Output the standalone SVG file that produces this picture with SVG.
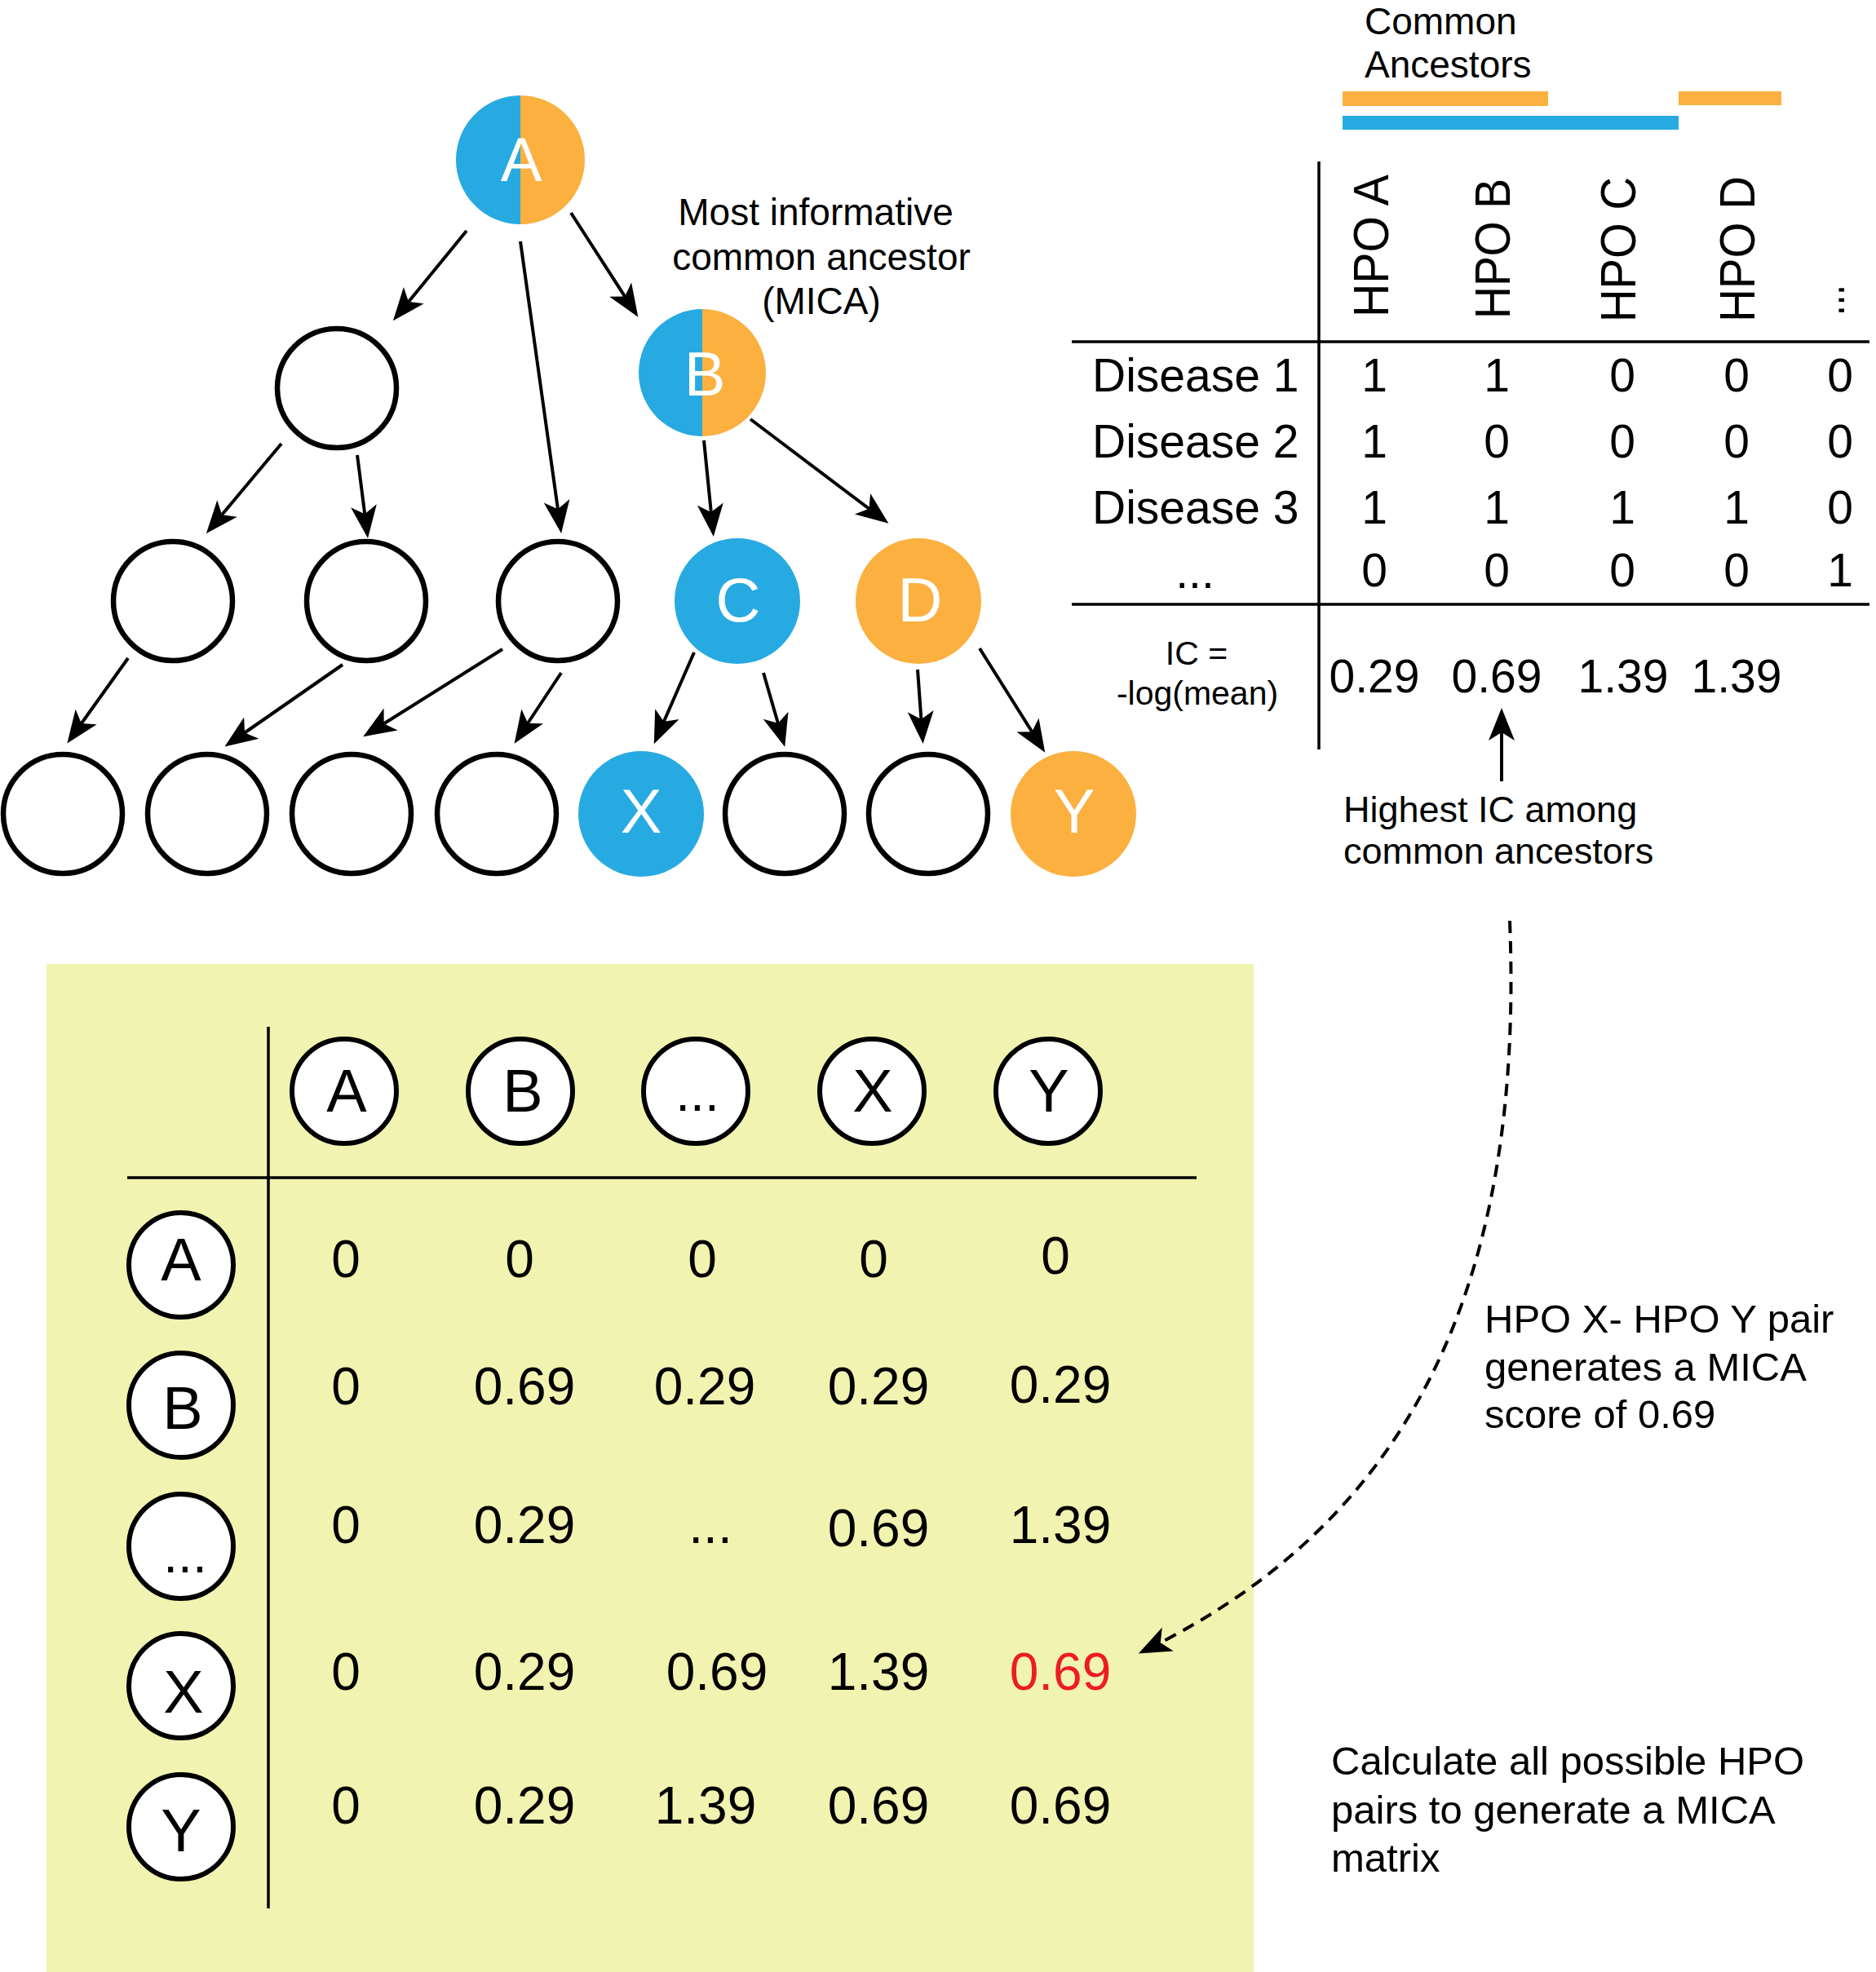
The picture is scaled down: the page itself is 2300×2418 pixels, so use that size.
<svg xmlns="http://www.w3.org/2000/svg" width="2300" height="2418" viewBox="0 0 2300 2418">
<style>
.t{font-family:"Liberation Sans",Arial,Helvetica,sans-serif;fill:#000}
.w{font-family:"Liberation Sans",Arial,Helvetica,sans-serif;fill:#fff;font-size:76px;text-anchor:middle}
.c{text-anchor:middle}
.ec{fill:#fff;stroke:#000;stroke-width:6.5}
.mc{fill:#fff;stroke:#000;stroke-width:6}
.ml{font-family:"Liberation Sans",Arial,Helvetica,sans-serif;font-size:74px;text-anchor:middle}
.mv{font-family:"Liberation Sans",Arial,Helvetica,sans-serif;font-size:64px;text-anchor:middle}
.tv{font-family:"Liberation Sans",Arial,Helvetica,sans-serif;font-size:57px;text-anchor:middle}
.hd{font-family:"Liberation Sans",Arial,Helvetica,sans-serif;font-size:62px}
.ar{fill:none;stroke:#000;stroke-width:4;marker-end:url(#ah)}
.ln{stroke:#000;stroke-width:3.5;fill:none}
.blue{fill:#27AAE1}
.orange{fill:#FBB040}
</style>
<defs>
<marker id="ah" markerUnits="userSpaceOnUse" viewBox="-40 -20 55 40" refX="0" refY="0" markerWidth="55" markerHeight="40" orient="auto">
<path d="M8,0 L-32,-16 L-22,0 L-32,16 Z" fill="#000"/>
</marker>
</defs>
<rect width="2300" height="2418" fill="#fff"/>

<!-- Tree nodes -->
<g id="node-A">
<path class="blue" d="M638,117 A79,79 0 0 0 638,275 Z"/>
<path class="orange" d="M638,117 A79,79 0 0 1 638,275 Z"/>
<text class="w" x="639" y="222">A</text>
</g>
<g id="node-r2a"><circle class="ec" cx="413" cy="476" r="73"/></g>
<g id="node-B">
<path class="blue" d="M861,379 A78,78 0 0 0 861,535 Z"/>
<path class="orange" d="M861,379 A78,78 0 0 1 861,535 Z"/>
<text class="w" x="864" y="485">B</text>
</g>
<g id="node-r3a"><circle class="ec" cx="212" cy="737" r="73"/></g>
<g id="node-r3b"><circle class="ec" cx="449" cy="737" r="73"/></g>
<g id="node-r3c"><circle class="ec" cx="684" cy="737" r="73"/></g>
<g id="node-C"><circle class="blue" cx="904" cy="737" r="77"/><text class="w" x="905" y="762">C</text></g>
<g id="node-D"><circle class="orange" cx="1126" cy="737" r="77"/><text class="w" x="1128" y="762">D</text></g>
<g id="node-r4a"><circle class="ec" cx="77" cy="998" r="73"/></g>
<g id="node-r4b"><circle class="ec" cx="254" cy="998" r="73"/></g>
<g id="node-r4c"><circle class="ec" cx="431" cy="998" r="73"/></g>
<g id="node-r4d"><circle class="ec" cx="609" cy="998" r="73"/></g>
<g id="node-X"><circle class="blue" cx="786" cy="998" r="77"/><text class="w" x="786" y="1021">X</text></g>
<g id="node-r4f"><circle class="ec" cx="962" cy="998" r="73"/></g>
<g id="node-r4g"><circle class="ec" cx="1138" cy="998" r="73"/></g>
<g id="node-Y"><circle class="orange" cx="1316" cy="998" r="77"/><text class="w" x="1317" y="1021">Y</text></g>

<g id="label-mica" class="t" font-size="46">
<text class="c" x="1000" y="276">Most informative</text>
<text class="c" x="1007" y="331">common ancestor</text>
<text class="c" x="1007" y="385">(MICA)</text>
</g>

<!-- Common ancestors bars -->
<g id="common-ancestors">
<text class="t" font-size="46" x="1673" y="42">Common</text>
<text class="t" font-size="46" x="1673" y="95">Ancestors</text>
<rect class="orange" x="1646" y="112" width="252" height="18"/>
<rect class="orange" x="2058" y="112" width="126" height="17"/>
<rect class="blue" x="1646" y="142" width="412" height="17"/>
</g>

<!-- Disease table -->
<g id="disease-table">
<line class="ln" x1="1617" y1="198" x2="1617" y2="919"/>
<line class="ln" x1="1314" y1="419" x2="2292" y2="419"/>
<line class="ln" x1="1314" y1="741" x2="2292" y2="741"/>
<text class="hd" transform="translate(1702,389) rotate(-90)" textLength="175" lengthAdjust="spacingAndGlyphs">HPO A</text>
<text class="hd" transform="translate(1851,391) rotate(-90)" textLength="172" lengthAdjust="spacingAndGlyphs">HPO B</text>
<text class="hd" transform="translate(2005,395) rotate(-90)" textLength="178" lengthAdjust="spacingAndGlyphs">HPO C</text>
<text class="hd" transform="translate(2151,395) rotate(-90)" textLength="179" lengthAdjust="spacingAndGlyphs">HPO D</text>
<text class="hd" transform="translate(2261,387) rotate(-90)" textLength="38" lengthAdjust="spacingAndGlyphs">...</text>
<g class="t" font-size="57">
<text x="1339" y="480">Disease 1</text>
<text x="1339" y="561">Disease 2</text>
<text x="1339" y="642">Disease 3</text>
<text class="c" x="1465" y="721">...</text>
</g>
<g class="tv">
<text x="1685" y="480">1</text><text x="1835" y="480">1</text><text x="1989" y="480">0</text><text x="2129" y="480">0</text><text x="2256" y="480">0</text>
<text x="1685" y="561">1</text><text x="1835" y="561">0</text><text x="1989" y="561">0</text><text x="2129" y="561">0</text><text x="2256" y="561">0</text>
<text x="1685" y="642">1</text><text x="1835" y="642">1</text><text x="1989" y="642">1</text><text x="2129" y="642">1</text><text x="2256" y="642">0</text>
<text x="1685" y="719">0</text><text x="1835" y="719">0</text><text x="1989" y="719">0</text><text x="2129" y="719">0</text><text x="2256" y="719">1</text>
</g>
<g class="t c" font-size="41">
<text x="1467" y="815">IC =</text>
<text x="1468" y="864">-log(mean)</text>
</g>
<g class="tv" font-size="57">
<text x="1685" y="849">0.29</text><text x="1835" y="849">0.69</text><text x="1990" y="849">1.39</text><text x="2129" y="849">1.39</text>
</g>
<g class="t" font-size="45">
<text x="1647" y="1008">Highest IC among</text>
<text x="1647" y="1059">common ancestors</text>
</g>
</g>

<!-- MICA matrix -->
<g id="mica-matrix">
<rect x="57" y="1182" width="1480" height="1236" fill="#F1F3B0"/>
<line class="ln" x1="329" y1="1259" x2="329" y2="2340"/>
<line class="ln" x1="156" y1="1444" x2="1467" y2="1444"/>
<g id="m-head-A"><circle class="mc" cx="422" cy="1338" r="64"/><text class="ml" x="425" y="1363">A</text></g>
<g id="m-head-B"><circle class="mc" cx="638" cy="1338" r="64"/><text class="ml" x="641" y="1363">B</text></g>
<g id="m-head-dots"><circle class="mc" cx="853" cy="1338" r="64"/><text class="mv" x="855" y="1362">...</text></g>
<g id="m-head-X"><circle class="mc" cx="1069" cy="1338" r="64"/><text class="ml" x="1070" y="1363">X</text></g>
<g id="m-head-Y"><circle class="mc" cx="1285" cy="1338" r="64"/><text class="ml" x="1286" y="1363">Y</text></g>
<g id="m-row-A"><circle class="mc" cx="222" cy="1551" r="64"/><text class="ml" x="222" y="1570">A</text></g>
<g id="m-row-B"><circle class="mc" cx="222" cy="1723" r="64"/><text class="ml" x="224" y="1752">B</text></g>
<g id="m-row-dots"><circle class="mc" cx="222" cy="1896" r="64"/><text class="mv" x="227" y="1928">...</text></g>
<g id="m-row-X"><circle class="mc" cx="222" cy="2067" r="64"/><text class="ml" x="225" y="2100">X</text></g>
<g id="m-row-Y"><circle class="mc" cx="222" cy="2240" r="64"/><text class="ml" x="222" y="2270">Y</text></g>
<g class="mv">
<text x="424" y="1566">0</text><text x="637" y="1566">0</text><text x="861" y="1566">0</text><text x="1071" y="1566">0</text><text x="1294" y="1562">0</text>
<text x="424" y="1722">0</text><text x="643" y="1722">0.69</text><text x="864" y="1722">0.29</text><text x="1077" y="1722">0.29</text><text x="1300" y="1720">0.29</text>
<text x="424" y="1892">0</text><text x="643" y="1892">0.29</text><text x="871" y="1892">...</text><text x="1077" y="1896">0.69</text><text x="1300" y="1892">1.39</text>
<text x="424" y="2072">0</text><text x="643" y="2072">0.29</text><text x="879" y="2072">0.69</text><text x="1077" y="2072">1.39</text><text x="1300" y="2072" fill="#ED1C24">0.69</text>
<text x="424" y="2236">0</text><text x="643" y="2236">0.29</text><text x="865" y="2236">1.39</text><text x="1077" y="2236">0.69</text><text x="1300" y="2236">0.69</text>
</g>
</g>

<g id="notes" class="t">
<g font-size="49">
<text x="1820" y="1634">HPO X- HPO Y pair</text>
<text x="1820" y="1693">generates a MICA</text>
<text x="1820" y="1751">score of 0.69</text>
</g>
<g font-size="49">
<text x="1632" y="2176">Calculate all possible HPO</text>
<text x="1632" y="2236">pairs to generate a MICA</text>
<text x="1632" y="2295">matrix</text>
</g>
</g>

<!-- Connectors -->
<g id="connectors">
<path class="ar" d="M572,283 L487,387"/>
<path class="ar" d="M638,296 L687,646"/>
<path class="ar" d="M700,261 L778,382"/>
<path class="ar" d="M345,544 L258,648"/>
<path class="ar" d="M438,558 L450,652"/>
<path class="ar" d="M863,540 L874,650"/>
<path class="ar" d="M920,514 L1083,637"/>
<path class="ar" d="M157,807 L87,905"/>
<path class="ar" d="M420,815 L282,911"/>
<path class="ar" d="M616,796 L452,899"/>
<path class="ar" d="M688,825 L635,905"/>
<path class="ar" d="M851,800 L805,905"/>
<path class="ar" d="M936,825 L960,908"/>
<path class="ar" d="M1125,821 L1131,904"/>
<path class="ar" d="M1201,795 L1277,916"/>
<path class="ar" d="M1841,958 L1841,876"/>
<path class="ar" stroke-width="3.3" stroke-dasharray="15,10" d="M1851,1129 C1868,1560 1740,1860 1403,2024"/>
</g>
</svg>
